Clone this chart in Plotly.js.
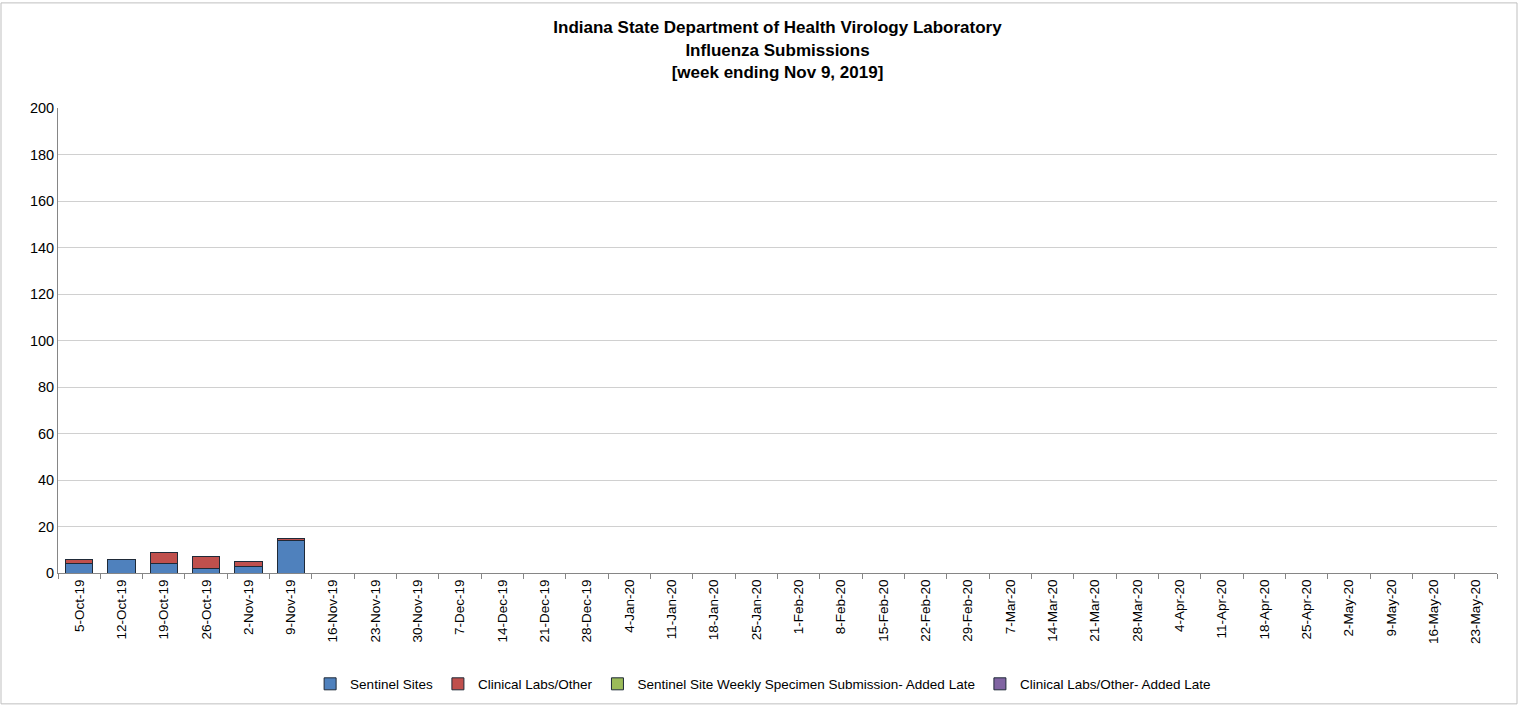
<!DOCTYPE html>
<html><head><meta charset="utf-8">
<script src="https://cdn.plot.ly/plotly-3.0.1.min.js"></script>
<style>html,body{margin:0;padding:0;background:#fff}#chart{width:1519px;height:711px}</style>
</head><body><div id="chart"></div>
<script>
const weeks = ["5-Oct-19","12-Oct-19","19-Oct-19","26-Oct-19","2-Nov-19","9-Nov-19","16-Nov-19","23-Nov-19","30-Nov-19","7-Dec-19","14-Dec-19","21-Dec-19","28-Dec-19","4-Jan-20","11-Jan-20","18-Jan-20","25-Jan-20","1-Feb-20","8-Feb-20","15-Feb-20","22-Feb-20","29-Feb-20","7-Mar-20","14-Mar-20","21-Mar-20","28-Mar-20","4-Apr-20","11-Apr-20","18-Apr-20","25-Apr-20","2-May-20","9-May-20","16-May-20","23-May-20"];
const sentinel = [4,6,4,2,3,14];
const clinical = [2,0,5,5,2,1];
const sentinelLate = [];
const clinicalLate = [];
const yTicks = [0,20,40,60,80,100,120,140,160,180,200];

const font = "Liberation Sans Narrow, Liberation Sans, Arial, sans-serif";
const line = {color:'#1f2a38', width:1};
const mk = (name, y, color) => ({type:'bar', name, x: weeks.slice(0, Math.max(y.length,1)), y: y.length? y : [null], marker:{color, line}, hoverinfo:'x+y+name'});
const traces = [
  mk('Sentinel Sites', sentinel, '#4f81bd'),
  mk('Clinical Labs/Other', clinical, '#c0504d'),
  mk('Sentinel Site Weekly Specimen Submission- Added Late', sentinelLate, '#9bbb59'),
  mk('Clinical Labs/Other- Added Late', clinicalLate, '#8064a2')
];
const L=58, R=22, T=108, B=134, W=1519, H=711;
const pw = W-L-R, ph = H-T-B;
const layout = {
  width: W, height: H,
  margin:{l:L, r:R, t:T, b:B},
  barmode:'stack', bargap:0.36,
  paper_bgcolor:'#fff', plot_bgcolor:'#fff',
  font:{family:font, size:13, color:'#000'},
  title:{text:'<b>Indiana State Department of Health Virology Laboratory<br>Influenza Submissions<br>[week ending Nov 9, 2019]</b>', x:0.5, xref:'paper', y:0.953, yanchor:'top', font:{family:font, size:17, color:'#000'}},
  xaxis:{type:'category', categoryorder:'array', categoryarray:weeks, range:[-0.5, weeks.length-0.5], tickangle:-90, tickfont:{size:13.5}, showgrid:false, showline:true, linecolor:'#868686', ticks:'outside', tickson:'boundaries', ticklen:5, tickcolor:'#868686', fixedrange:true},
  yaxis:{range:[0,200], tickvals:yTicks, ticktext:yTicks.map(String), tickfont:{size:14.5}, showgrid:true, gridcolor:'#d0d0d0', showline:true, linecolor:'#868686', zeroline:false, ticks:'', ticklen:0},
  showlegend:true,
  legend:{orientation:'h', x:0.49, xanchor:'center', y:-(689-577)/ph, yanchor:'middle', font:{size:13.5}, traceorder:'normal', itemwidth:30},
  shapes:[{type:'rect', xref:'paper', yref:'paper', x0:-(L-1)/pw, x1:1+(R-2)/pw, y0:-(B-2)/ph, y1:1+(T-2)/ph, line:{color:'#bfbfbf', width:1}}]
};
Plotly.newPlot('chart', traces, layout, {displayModeBar:false});
</script></body></html>
